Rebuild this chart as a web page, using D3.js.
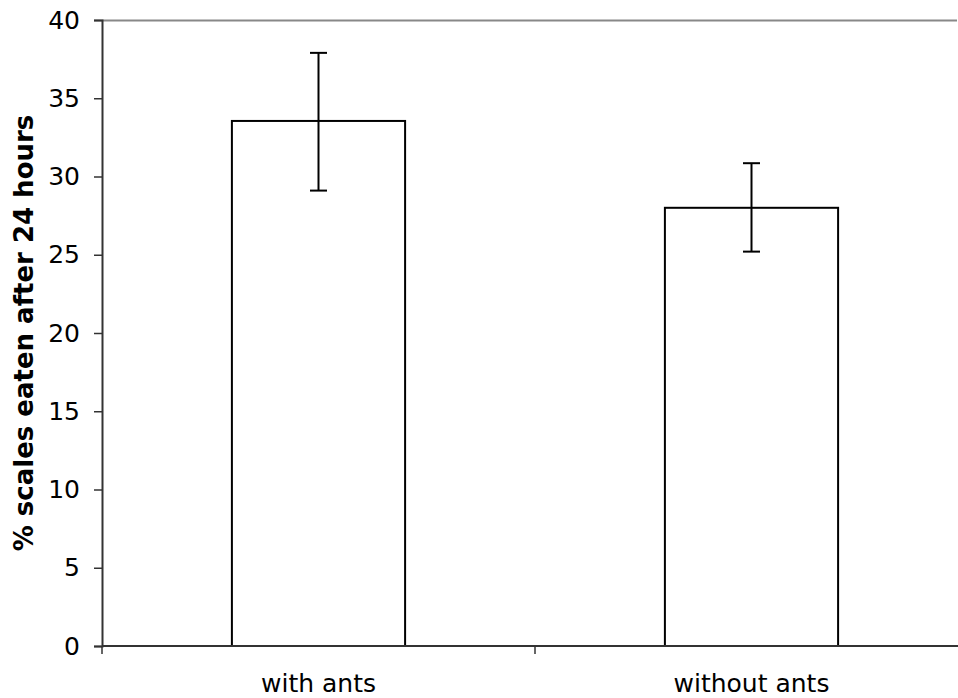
<!DOCTYPE html>
<html>
<head>
<meta charset="utf-8">
<script src="https://cdn.jsdelivr.net/npm/d3@7"></script>
<style>
  body { margin: 0; background: #fff; }
  text { font-family: "DejaVu Sans", Verdana, sans-serif; }
</style>
</head>
<body>
<svg id="chart"></svg>
<script>
// data
const categories = ["with ants", "without ants"];
const means = [33.55, 28.0];
const errLow = [29.1, 25.2];
const errHigh = [37.9, 30.85];
const yTicks = [0, 5, 10, 15, 20, 25, 30, 35, 40];

const width = 958, height = 698;
const margin = {top: 20, right: -10, bottom: 52, left: 102};

const svg = d3.select("#chart")
    .attr("width", width)
    .attr("height", height);

const innerW = width - margin.left - margin.right;
const innerH = height - margin.top - margin.bottom;

const g = svg.append("g")
    .attr("transform", `translate(${margin.left},${margin.top})`);

const x = d3.scaleBand()
    .domain(categories)
    .range([0, innerW])
    .paddingInner(0.6)
    .paddingOuter(0.3);

const y = d3.scaleLinear()
    .domain([0, 40])
    .range([innerH, 0]);

// top frame line
g.append("line")
    .attr("x1", 0).attr("x2", width - margin.left - 1)
    .attr("y1", 0.5).attr("y2", 0.5)
    .attr("stroke", "#888").attr("stroke-width", 2);

// bars
g.selectAll("rect.bar")
    .data(categories)
    .join("rect")
    .attr("class", "bar")
    .attr("x", d => x(d))
    .attr("y", (d, i) => y(means[i]))
    .attr("width", x.bandwidth())
    .attr("height", (d, i) => y(0) - y(means[i]))
    .attr("fill", "#fff")
    .attr("stroke", "#000")
    .attr("stroke-width", 2);

// error bars
const cap = 8.5;
const eb = g.selectAll("g.err")
    .data(categories)
    .join("g")
    .attr("class", "err")
    .attr("transform", d => `translate(${x(d) + x.bandwidth() / 2},0)`);
eb.append("line")
    .attr("y1", (d, i) => y(errLow[i]))
    .attr("y2", (d, i) => y(errHigh[i]))
    .attr("stroke", "#000").attr("stroke-width", 2);
eb.append("line")
    .attr("x1", -cap).attr("x2", cap)
    .attr("y1", (d, i) => y(errLow[i])).attr("y2", (d, i) => y(errLow[i]))
    .attr("stroke", "#000").attr("stroke-width", 2);
eb.append("line")
    .attr("x1", -cap).attr("x2", cap)
    .attr("y1", (d, i) => y(errHigh[i])).attr("y2", (d, i) => y(errHigh[i]))
    .attr("stroke", "#000").attr("stroke-width", 2);

// y axis
const yAxis = g.append("g")
    .call(d3.axisLeft(y).tickValues(yTicks).tickSize(8).tickPadding(14));
yAxis.select(".domain").attr("stroke", "#333").attr("stroke-width", 2);
yAxis.selectAll(".tick line").attr("stroke", "#333").attr("stroke-width", 1.5);
yAxis.selectAll(".tick text")
    .attr("font-size", 25)
    .attr("font-family", "'DejaVu Sans', Verdana, sans-serif")
    .attr("fill", "#000");

// x axis: ticks at band boundaries
const xAxisG = g.append("g")
    .attr("transform", `translate(0,${innerH})`);
xAxisG.append("line")
    .attr("x1", 0).attr("x2", width - margin.left)
    .attr("stroke", "#333").attr("stroke-width", 2);
const bounds = [0, (x(categories[0]) + x.bandwidth() + x(categories[1])) / 2];
xAxisG.selectAll("line.tk")
    .data(bounds)
    .join("line")
    .attr("class", "tk")
    .attr("x1", d => d).attr("x2", d => d)
    .attr("y1", 0).attr("y2", 8)
    .attr("stroke", "#333").attr("stroke-width", 1.5);
xAxisG.selectAll("text")
    .data(categories)
    .join("text")
    .attr("x", d => x(d) + x.bandwidth() / 2)
    .attr("y", 46)
    .attr("text-anchor", "middle")
    .attr("font-size", 25)
    .text(d => d);

// y title
svg.append("text")
    .attr("transform", `translate(33,${margin.top + innerH / 2}) rotate(-90)`)
    .attr("text-anchor", "middle")
    .attr("font-size", 26)
    .attr("font-weight", "bold")
    .text("% scales eaten after 24 hours");
</script>
</body>
</html>
